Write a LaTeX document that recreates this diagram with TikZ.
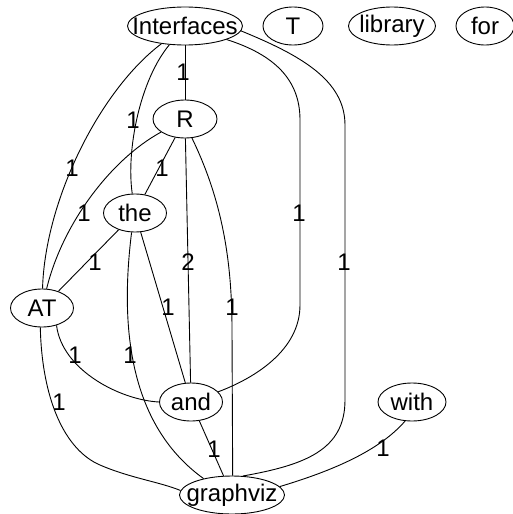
\documentclass[tikz,border=0pt]{standalone}
\usepackage{fontspec}
\setmainfont{Liberation Sans}
\usetikzlibrary{shapes.geometric}
\begin{document}
\begin{tikzpicture}[x=1pt,y=-1pt,
  wt/.style={font=\fontsize{24}{27}\selectfont,inner sep=0pt},
  word/.style={draw,ellipse,inner sep=0pt,minimum height=38pt,line width=0.9pt,label={[wt]center:#1}},
  edge/.style={line width=0.9pt}]
\useasboundingbox (0,0) rectangle (513,514);
\node[word=Interfaces,minimum width=115pt] (I) at (185,26) {};
\node[word=T,minimum width=60pt] (T) at (293,26) {};
\node[word=library,minimum width=87pt] (lib) at (392,26) {};
\node[word=for,minimum width=58pt] (for) at (485,26) {};
\node[word=R,minimum width=64pt] (R) at (185,119) {};
\node[word=the,minimum width=63pt] (the) at (135,213) {};
\node[word=AT,minimum width=63pt] (AT) at (42,308) {};
\node[word=and,minimum width=63pt] (and) at (191,402) {};
\node[word=graphviz,minimum width=105pt] (g) at (232,495) {};
\node[word=with,minimum width=68pt] (with) at (412,402) {};
\coordinate (c1) at (300,120);
\coordinate (c2) at (300,305);
\coordinate (c3) at (345,125);
\coordinate (c4) at (345,400);
\coordinate (c5) at (232,330);
\coordinate (c6) at (100,465);
\draw[edge] (I) -- (R);
\draw[edge] (I) .. controls (140,80) and (126,150) .. (the);
\draw[edge] (I) .. controls (100,90) and (45,200) .. (AT);
\draw[edge] (I.-18) .. controls (275,55) and (300,80) .. (c1) -- (c2) .. controls (300,350) and (255,378) .. (and);
\draw[edge] (I.-5) .. controls (300,55) and (345,80) .. (c3) -- (c4) .. controls (345,450) and (305,465) .. (g.60);
\draw[edge] (R) -- (the);
\draw[edge] (R) .. controls (110,160) and (62,225) .. (AT);
\draw[edge] (R) -- (and);
\draw[edge] (R.290) .. controls (222,200) and (232,260) .. (c5) -- (g.88);
\draw[edge] (the) -- (AT);
\draw[edge] (the) -- (and);
\draw[edge] (the.260) .. controls (122,310) and (122,420) .. (g.150);
\draw[edge] (AT.310) .. controls (62,370) and (120,400) .. (and.180);
\draw[edge] (AT.265) .. controls (42,400) and (65,450) .. (c6) .. controls (130,478) and (160,482) .. (g.175);
\draw[edge] (and) -- (g);
\draw[edge] (with.250) .. controls (380,450) and (335,470) .. (g.10);
\node[wt] (l1) at (183,72) {1};
\node[wt] (l2) at (133,120) {1};
\node[wt] (l3) at (72,168) {1};
\node[wt] (l4) at (162,168) {1};
\node[wt] (l5) at (84,213) {1};
\node[wt] (l6) at (299,213) {1};
\node[wt] (l7) at (95,262) {1};
\node[wt] (l8) at (188,262) {2};
\node[wt] (l9) at (344,262) {1};
\node[wt] (l10) at (168,307) {1};
\node[wt] (l11) at (232,307) {1};
\node[wt] (l12) at (75,355) {1};
\node[wt] (l13) at (130,355) {1};
\node[wt] (l14) at (59,402) {1};
\node[wt] (l15) at (214,449) {1};
\node[wt] (l16) at (383,448) {1};
\end{tikzpicture}
\end{document}
